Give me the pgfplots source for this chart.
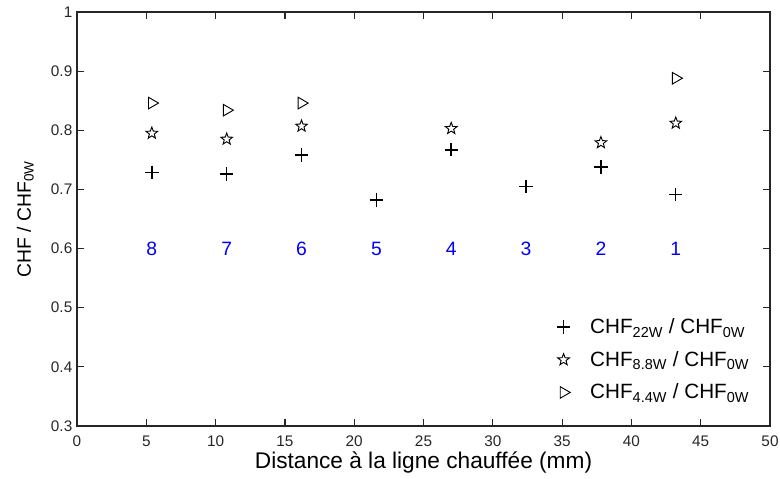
\documentclass[border=0pt]{standalone}
\usepackage{fontspec}
\setmainfont{Liberation Sans}
\usepackage{pgfplots}
\pgfplotsset{compat=1.18}
\usetikzlibrary{calc}
\pgfdeclareplotmark{fstar}{%
  \pgfpathmoveto{\pgfpointpolar{90}{\pgfplotmarksize}}%
  \pgfpathlineto{\pgfpointpolar{126}{0.42\pgfplotmarksize}}%
  \pgfpathlineto{\pgfpointpolar{162}{\pgfplotmarksize}}%
  \pgfpathlineto{\pgfpointpolar{198}{0.42\pgfplotmarksize}}%
  \pgfpathlineto{\pgfpointpolar{234}{\pgfplotmarksize}}%
  \pgfpathlineto{\pgfpointpolar{270}{0.42\pgfplotmarksize}}%
  \pgfpathlineto{\pgfpointpolar{306}{\pgfplotmarksize}}%
  \pgfpathlineto{\pgfpointpolar{342}{0.42\pgfplotmarksize}}%
  \pgfpathlineto{\pgfpointpolar{18}{\pgfplotmarksize}}%
  \pgfpathlineto{\pgfpointpolar{54}{0.42\pgfplotmarksize}}%
  \pgfpathclose
  \pgfusepathqstroke}
\definecolor{axgray}{RGB}{38,38,38}
\begin{document}
\begin{tikzpicture}
\begin{axis}[
  name=ax,
  scale only axis,
  width=519.75pt, height=310.5pt,
  xmin=0, xmax=50, ymin=0.3, ymax=1,
  xtick={0,5,...,50},
  ytick={0.3,0.4,...,1.0},
  axis line style={axgray, line width=0.9pt},
  tick style={axgray, line width=0.9pt},
  tick align=inside,
  major tick length=5pt,
  xtick pos=both, ytick pos=both,
  /pgf/number format/assume math mode=true,
  yticklabel style={/pgf/number format/fixed, /pgf/number format/precision=1},
  tick label style={font=\fontsize{11.5}{13}\selectfont, text=axgray},
  xticklabel style={yshift=-4pt},
  xlabel={Distance à la ligne chauffée (mm)},
  ylabel={CHF / CHF\textsubscript{0W}},
  xlabel style={font=\fontsize{17}{19}\selectfont, yshift=3.5pt},
  ylabel style={font=\fontsize{14.5}{17}\selectfont, yshift=6pt},
  legend style={draw=none, fill=none, at={(0.98,0.047)}, anchor=south east,
    font=\fontsize{15.5}{18}\selectfont, row sep=7.75pt,
    /tikz/every odd column/.append style={column sep=13pt}},
  legend cell align=left,
]
\addplot[only marks, mark=+, mark size=5pt, line width=1.1pt, black] table {
x y
5.4 0.729
10.8 0.726
16.2 0.758
21.6 0.682
27.0 0.767
32.4 0.705
37.8 0.738
43.2 0.691
};
\addlegendentry{CHF\textsubscript{22W} / CHF\textsubscript{0W}}
\addplot[only marks, mark=fstar, mark size=4.6pt, line width=0.7pt, black] table {
x y
5.4 0.795
10.8 0.785
16.2 0.807
27.0 0.803
37.8 0.779
43.2 0.812
};
\addlegendentry{CHF\textsubscript{8.8W} / CHF\textsubscript{0W}}
\addplot[only marks, mark=triangle, mark size=5pt, mark options={rotate=-90}, line width=0.7pt, black] table {
x y
5.4 0.846
10.8 0.834
16.2 0.846
43.2 0.888
};
\addlegendentry{CHF\textsubscript{4.4W} / CHF\textsubscript{0W}}
\addplot[only marks, mark=none, forget plot, nodes near coords, point meta=explicit symbolic,
  nodes near coords align=center,
  every node near coord/.style={text=blue, font=\fontsize{14.5}{16}\selectfont}] table[meta=lab] {
x y lab
5.4 0.6 8
10.8 0.6 7
16.2 0.6 6
21.6 0.6 5
27.0 0.6 4
32.4 0.6 3
37.8 0.6 2
43.2 0.6 1
};
\end{axis}
\pgfresetboundingbox
\path ($(ax.south west)+(-57.75pt,-39.75pt)$) rectangle ($(ax.north east)+(7.5pt,9pt)$);
\end{tikzpicture}
\end{document}
